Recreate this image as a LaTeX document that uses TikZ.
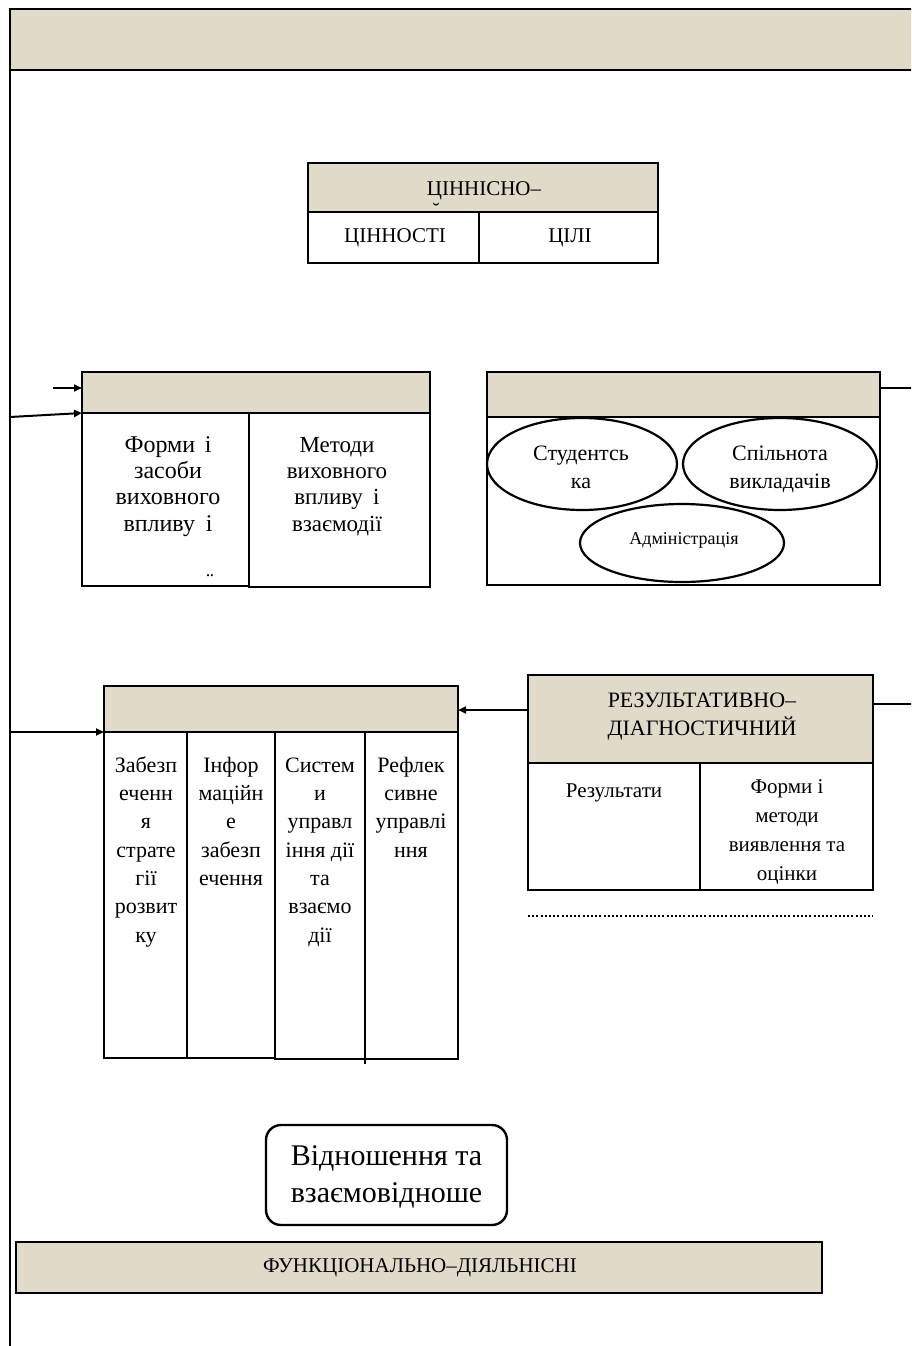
\documentclass[tikz,border=0pt]{standalone}
\usepackage{fontspec}
\setmainfont{Liberation Serif}
\usetikzlibrary{arrows.meta,shapes.geometric}
\definecolor{beige}{RGB}{224,219,200}
\begin{document}
\begin{tikzpicture}[x=1pt,y=-1pt,
  box/.style={draw, line width=2.4pt, inner sep=0pt, outer sep=0pt, anchor=north west},
  hdr/.style={box, fill=beige},
  oval/.style={draw, ellipse, line width=2.2pt, inner sep=0pt},
  conn/.style={line width=2pt},
  arr/.style={line width=2pt, -{Triangle[length=8pt,width=7pt]}},
  tx/.style={inner sep=0pt, align=center, font=\fontsize{#1}{#1}\selectfont, anchor=base},
  mt/.style 2 args={inner sep=0pt, align=center, font=\fontsize{#1}{#2}\selectfont, anchor=north}]
\useasboundingbox (0,0) rectangle (911,1346);
\clip (0,0) rectangle (911,1346);

% top band and left frame line
\node[hdr, minimum width=920pt, minimum height=61pt, line width=2.8pt] (top) at (10,9) {};
\draw[line width=2.8pt] (top.north west) -- (10,1352) coordinate (frameend);

% ЦІННІСНО box
\node[hdr, minimum width=350pt, minimum height=49pt] (vh) at (308,163) {};
\node[box, minimum width=171pt, minimum height=51pt] (vl) at (308,212) {};
\node[box, minimum width=179pt, minimum height=51pt] (vr) at (479,212) {};
\node[tx=21] (vht) at (484,195) {ЦІННІСНО–};
\node[tx=21] (vbr) at (436,217) {˘};
\node[tx=21] (vlt) at (395,242) {ЦІННОСТІ};
\node[tx=21] (vrt) at (570,242) {ЦІЛІ};

% methods box
\node[hdr, minimum width=348pt, minimum height=41pt] (mh) at (82,372) {};
\node[box, minimum width=167pt, minimum height=173pt] (ml) at (82,413) {};
\node[box, minimum width=181pt, minimum height=174pt] (mr) at (249,413) {};
\node[mt={24}{26.3}] (mlt) at (168,433.6) {\strut Форми\hspace{0.15em} і\\засоби\\виховного\\впливу\hspace{0.2em} і};
\node[tx=22] (mld) at (210,588) {¨};
\node[mt={23}{26.3}] (mrt) at (337,433.6) {\strut Методи\\виховного\\впливу\hspace{0.2em} і\\взаємодії};

% agents box
\node[hdr, minimum width=393pt, minimum height=45pt] (ah) at (487,372) {};
\node[box, minimum width=393pt, minimum height=168pt] (ab) at (487,417) {};
\node[oval, minimum width=190pt, minimum height=92pt] (e1) at (582,464) {};
\node[oval, minimum width=194pt, minimum height=92pt] (e2) at (780,464) {};
\node[oval, minimum width=204pt, minimum height=78pt] (e3) at (682,543) {};
\node[mt={22}{28}] (e1t) at (581,440.4) {\strut Студентсь\\ка};
\node[mt={22}{28}] (e2t) at (780,440.4) {\strut Спільнота\\викладачів};
\node[tx=18] (e3t) at (684,544) {Адміністрація};

% management box
\node[hdr, minimum width=354pt, minimum height=46pt] (gh) at (104,686) {};
\node[box, minimum width=83pt, minimum height=326pt] (c1) at (104,732) {};
\node[box, minimum width=88pt, minimum height=326pt] (c2) at (187,732) {};
\node[box, minimum width=90pt, minimum height=327pt] (c3) at (275,732) {};
\node[box, minimum width=93pt, minimum height=327pt] (c4) at (365,732) {};
\draw[line width=2.4pt] (c4.south west) -- ++(0,5);
\node[mt={22}{28.3}] (c1t) at (146,752.2) {\strut Забезп\\еченн\\я\\страте\\гії\\розвит\\ку};
\node[mt={22}{28.3}] (c2t) at (231,752.2) {\strut Інфор\\маційн\\е\\забезп\\ечення};
\node[mt={22}{28.3}] (c3t) at (320,752.2) {\strut Систем\\и\\управл\\іння дії\\та\\взаємо\\дії};
\node[mt={22}{28.3}] (c4t) at (411,752.2) {\strut Рефлек\\сивне\\управлі\\ння};

% results box
\node[hdr, minimum width=345pt, minimum height=88pt] (rh) at (528,675) {};
\node[box, minimum width=172pt, minimum height=127pt] (rl) at (528,763) {};
\node[box, minimum width=173pt, minimum height=127pt] (rr) at (700,763) {};
\node[mt={22}{28}] (rht) at (702,687.4) {\strut РЕЗУЛЬТАТИВНО–\\ДІАГНОСТИЧНИЙ};
\node[tx=21] (rlt) at (614,797) {Результати};
\node[mt={21}{29}] (rrt) at (787,772.7) {\strut Форми і\\методи\\виявлення та\\оцінки};
\coordinate (dotl) at (528,916);
\coordinate (dotr) at (873,916);
\draw[line width=2pt, dash pattern=on 2pt off 2.2pt] (dotl) -- (dotr);

% relations box
\node[box, rounded corners=15pt, minimum width=241pt, minimum height=100pt] (rel) at (266,1125) {};
\node[mt={30}{37}] (relt) at (386.5,1139.1) {\strut Відношення та\\взаємовідноше};

% functional band
\node[hdr, minimum width=806pt, minimum height=51pt] (fb) at (16,1242) {};
\node[tx=21] (fbt) at (420,1272) {ФУНКЦІОНАЛЬНО–ДІЯЛЬНІСНІ};

% connectors
\coordinate (a1s) at (53,388);
\draw[arr] (a1s) -- (a1s -| mh.west);
\coordinate (a2s) at (10,417);
\draw[arr] (a2s) -- (mh.south west);
\coordinate (a3s) at (10,732);
\draw[arr] (a3s) -- (gh.south west);
\coordinate (a4s) at (528,710);
\draw[arr] (a4s) -- (a4s -| gh.east);
\coordinate (l5s) at (880,388);
\coordinate (l5e) at (915,388);
\draw[conn] (l5s) -- (l5e);
\coordinate (l6s) at (873,704);
\coordinate (l6e) at (915,704);
\draw[conn] (l6s) -- (l6e);
\end{tikzpicture}
\end{document}
